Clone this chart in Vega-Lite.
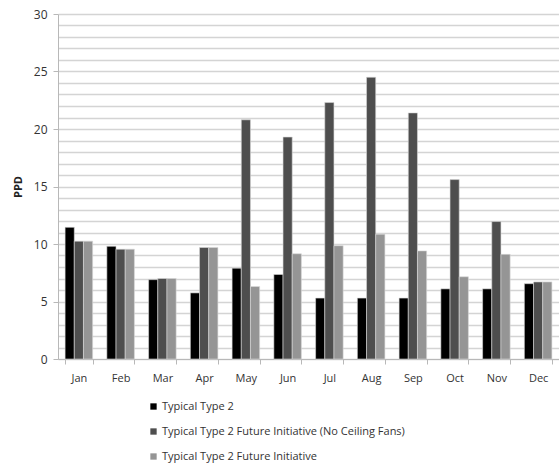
{
  "$schema": "https://vega.github.io/schema/vega-lite/v6.json",
  "width": 501,
  "height": 345,
  "autosize": "none",
  "padding": {"left": 58, "top": 14, "right": 0, "bottom": 109},
  "background": "white",
  "config": {
    "font": "Open Sans",
    "view": {"stroke": null}
  },
  "data": {
    "values": [
      {"month": "Jan", "series": "Typical Type 2", "ppd": 11.45},
      {"month": "Jan", "series": "Typical Type 2 Future Initiative (No Ceiling Fans)", "ppd": 10.25},
      {"month": "Jan", "series": "Typical Type 2 Future Initiative", "ppd": 10.25},
      {"month": "Feb", "series": "Typical Type 2", "ppd": 9.8},
      {"month": "Feb", "series": "Typical Type 2 Future Initiative (No Ceiling Fans)", "ppd": 9.55},
      {"month": "Feb", "series": "Typical Type 2 Future Initiative", "ppd": 9.55},
      {"month": "Mar", "series": "Typical Type 2", "ppd": 6.9},
      {"month": "Mar", "series": "Typical Type 2 Future Initiative (No Ceiling Fans)", "ppd": 7.0},
      {"month": "Mar", "series": "Typical Type 2 Future Initiative", "ppd": 7.0},
      {"month": "Apr", "series": "Typical Type 2", "ppd": 5.75},
      {"month": "Apr", "series": "Typical Type 2 Future Initiative (No Ceiling Fans)", "ppd": 9.7},
      {"month": "Apr", "series": "Typical Type 2 Future Initiative", "ppd": 9.7},
      {"month": "May", "series": "Typical Type 2", "ppd": 7.9},
      {"month": "May", "series": "Typical Type 2 Future Initiative (No Ceiling Fans)", "ppd": 20.8},
      {"month": "May", "series": "Typical Type 2 Future Initiative", "ppd": 6.3},
      {"month": "Jun", "series": "Typical Type 2", "ppd": 7.35},
      {"month": "Jun", "series": "Typical Type 2 Future Initiative (No Ceiling Fans)", "ppd": 19.3},
      {"month": "Jun", "series": "Typical Type 2 Future Initiative", "ppd": 9.15},
      {"month": "Jul", "series": "Typical Type 2", "ppd": 5.3},
      {"month": "Jul", "series": "Typical Type 2 Future Initiative (No Ceiling Fans)", "ppd": 22.3},
      {"month": "Jul", "series": "Typical Type 2 Future Initiative", "ppd": 9.85},
      {"month": "Aug", "series": "Typical Type 2", "ppd": 5.3},
      {"month": "Aug", "series": "Typical Type 2 Future Initiative (No Ceiling Fans)", "ppd": 24.5},
      {"month": "Aug", "series": "Typical Type 2 Future Initiative", "ppd": 10.85},
      {"month": "Sep", "series": "Typical Type 2", "ppd": 5.3},
      {"month": "Sep", "series": "Typical Type 2 Future Initiative (No Ceiling Fans)", "ppd": 21.4},
      {"month": "Sep", "series": "Typical Type 2 Future Initiative", "ppd": 9.4},
      {"month": "Oct", "series": "Typical Type 2", "ppd": 6.1},
      {"month": "Oct", "series": "Typical Type 2 Future Initiative (No Ceiling Fans)", "ppd": 15.6},
      {"month": "Oct", "series": "Typical Type 2 Future Initiative", "ppd": 7.15},
      {"month": "Nov", "series": "Typical Type 2", "ppd": 6.1},
      {"month": "Nov", "series": "Typical Type 2 Future Initiative (No Ceiling Fans)", "ppd": 11.95},
      {"month": "Nov", "series": "Typical Type 2 Future Initiative", "ppd": 9.1},
      {"month": "Dec", "series": "Typical Type 2", "ppd": 6.55},
      {"month": "Dec", "series": "Typical Type 2 Future Initiative (No Ceiling Fans)", "ppd": 6.7},
      {"month": "Dec", "series": "Typical Type 2 Future Initiative", "ppd": 6.7}
    ]
  },
  "mark": {"type": "bar", "stroke": "#d8d8d8", "strokeWidth": 0.6},
  "encoding": {
    "x": {
      "field": "month",
      "type": "nominal",
      "sort": ["Jan","Feb","Mar","Apr","May","Jun","Jul","Aug","Sep","Oct","Nov","Dec"],
      "scale": {"paddingInner": 0.34, "paddingOuter": 0.17},
      "axis": {
        "title": null,
        "labelAngle": 0,
        "labelFontSize": 11,
        "labelColor": "#333333",
        "labelPadding": 8,
        "tickBand": "extent",
        "tickSize": 5,
        "tickColor": "#b8b8b8",
        "domainColor": "#b8b8b8",
        "grid": false
      }
    },
    "xOffset": {
      "field": "series",
      "type": "nominal",
      "sort": ["Typical Type 2", "Typical Type 2 Future Initiative (No Ceiling Fans)", "Typical Type 2 Future Initiative"],
      "scale": {"paddingInner": 0, "paddingOuter": 0}
    },
    "y": {
      "field": "ppd",
      "type": "quantitative",
      "scale": {"domain": [0, 30], "nice": false},
      "axis": {
        "title": "PPD",
        "titleFontSize": 11,
        "titleFontWeight": "bold",
        "titleColor": "#222222",
        "titlePadding": 10,
        "values": [0,1,2,3,4,5,6,7,8,9,10,11,12,13,14,15,16,17,18,19,20,21,22,23,24,25,26,27,28,29,30],
        "labelExpr": "datum.value % 5 === 0 ? datum.label : ''",
        "labelFontSize": 12,
        "labelColor": "#333333",
        "labelPadding": 6,
        "tickSize": 5,
        "tickColor": "#b8b8b8",
        "tickOpacity": {"condition": {"test": "datum.value % 5 === 0", "value": 1}, "value": 0},
        "domainColor": "#b8b8b8",
        "grid": true,
        "gridColor": "#d4d4d4",
        "gridWidth": 1.3
      }
    },
    "color": {
      "field": "series",
      "type": "nominal",
      "sort": ["Typical Type 2", "Typical Type 2 Future Initiative (No Ceiling Fans)", "Typical Type 2 Future Initiative"],
      "scale": {
        "domain": ["Typical Type 2", "Typical Type 2 Future Initiative (No Ceiling Fans)", "Typical Type 2 Future Initiative"],
        "range": ["#000000", "#4e4e4e", "#959595"]
      },
      "legend": {
        "title": null,
        "orient": "none",
        "legendX": 90,
        "legendY": 387,
        "direction": "vertical",
        "symbolType": "square",
        "symbolSize": 40,
        "symbolStrokeWidth": 0,
        "labelFontSize": 11,
        "labelColor": "#333333",
        "labelOffset": 3,
        "rowPadding": 13,
        "padding": 0,
        "labelLimit": 400
      }
    }
  }
}
